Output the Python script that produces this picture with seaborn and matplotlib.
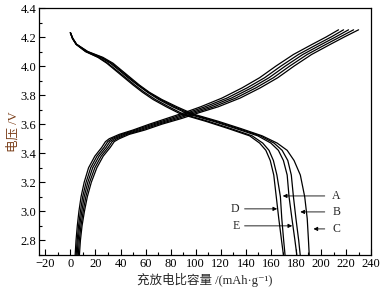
import matplotlib
matplotlib.use("Agg")
import matplotlib.pyplot as plt
from matplotlib.ticker import MultipleLocator
import seaborn as sns
import pandas as pd

# Discharge curves: shared voltage list, capacity per sample
dis_v = [4.23, 4.19, 4.15, 4.10, 4.06, 4.02, 3.97, 3.92, 3.87, 3.82, 3.77, 3.72,
         3.67, 3.62, 3.57, 3.52, 3.47, 3.42, 3.35, 3.25, 3.10, 2.95, 2.80, 2.70]
dis_D = [0, 1.6, 4.5, 12.0, 22.0, 29.0, 36.0, 43.0, 50.0, 57.5, 66.0, 76.5,
         88.0, 108.0, 126.0, 143.0, 151.0, 156.0, 159.5, 162.3, 164.3, 166.3, 168.5, 170.0]
dis_A = [0, 1.7, 4.6, 12.3, 22.6, 29.8, 37.0, 44.2, 51.3, 59.0, 67.8, 78.5,
         90.0, 110.0, 128.0, 145.0, 153.5, 158.5, 162.0, 164.8, 167.6, 168.7, 170.2, 171.3]
dis_E = [0, 1.8, 4.8, 13.0, 24.0, 31.8, 39.0, 46.0, 53.5, 61.5, 70.5, 81.5,
         94.0, 114.0, 132.0, 149.5, 160.0, 166.0, 170.0, 173.0, 174.5, 176.8, 179.2, 180.7]
dis_B = [0, 1.9, 4.9, 13.5, 25.0, 32.9, 40.0, 47.0, 54.2, 62.2, 71.8, 83.2,
         96.0, 116.0, 134.0, 151.5, 162.5, 169.0, 173.5, 176.3, 178.0, 180.0, 182.2, 183.4]
dis_C = [0, 2.0, 5.0, 14.0, 26.0, 34.0, 41.0, 48.0, 55.0, 63.0, 73.0, 85.0,
         98.0, 118.0, 136.0, 153.0, 165.0, 173.0, 178.5, 183.5, 187.0, 189.0, 190.0, 190.6]

# Charge curves: shared voltage list, capacity per sample
chg_v = [2.70, 2.80, 2.90, 3.00, 3.10, 3.20, 3.30, 3.38, 3.44, 3.48, 3.50, 3.53, 3.56,
         3.60, 3.64, 3.68, 3.72, 3.78, 3.85, 3.92, 4.00, 4.08, 4.15, 4.20, 4.25]
chg_D = [3.8, 4.5, 5.5, 6.8, 8.5, 11.0, 14.5, 19.5, 25.0, 28.0, 31.0, 39, 50,
         63, 77, 91, 104, 121, 137, 151, 164, 178, 193, 204, 214]
chg_A = [4.6, 5.4, 6.5, 8.0, 9.8, 12.5, 16.2, 21.2, 26.8, 29.8, 33.0, 41, 52,
         65.5, 80, 94, 107.5, 125, 141, 155, 168, 182, 197, 208, 218]
chg_E = [5.4, 6.2, 7.4, 9.1, 11.0, 13.9, 17.8, 22.9, 28.5, 31.5, 35.0, 43, 54.5,
         68, 83, 97, 111, 128.5, 144.5, 158.5, 171.5, 185.5, 200.5, 211.5, 222]
chg_B = [6.3, 7.1, 8.4, 10.2, 12.3, 15.3, 19.5, 24.6, 30.2, 33.3, 37.0, 45, 57,
         70.5, 86, 100, 114.5, 132, 148, 162, 175, 189, 204, 215, 226]
chg_C = [7.2, 8.0, 9.3, 11.2, 13.5, 16.7, 21.1, 26.2, 31.8, 35.0, 39.0, 47, 59.5,
         73, 89, 103, 118, 135.5, 151.5, 165.5, 178.5, 192.5, 207.5, 218.5, 230]

# Label positions (text x, text V, arrow tail x, arrow head x)
labels = ["A", "B", "C", "D", "E"]
label_x = [209, 209, 209, 135, 135]
label_v = [3.106, 2.996, 2.879, 3.017, 2.90]
tail_x = [203, 203, 203, 139, 139]
head_x = [169.5, 183.5, 194, 165, 177]

sns.set_theme(style="ticks")
plt.rcParams["font.family"] = ["Liberation Serif", "Noto Sans CJK SC", "DejaVu Serif"]

fig, ax = plt.subplots(figsize=(3.83, 2.91), dpi=100)
fig.subplots_adjust(left=0.102, right=0.969, top=0.9725, bottom=0.124)

for xs in [dis_D, dis_A, dis_E, dis_B, dis_C]:
    d = pd.DataFrame({"cap": xs, "v": dis_v})
    sns.lineplot(data=d, x="cap", y="v", sort=False, estimator=None,
                 color="black", lw=0.9, ax=ax)
for xs in [chg_D, chg_A, chg_E, chg_B, chg_C]:
    d = pd.DataFrame({"cap": xs, "v": chg_v})
    sns.lineplot(data=d, x="cap", y="v", sort=False, estimator=None,
                 color="black", lw=0.9, ax=ax)

for lab, tx, tv, sx, hx in zip(labels, label_x, label_v, tail_x, head_x):
    ax.annotate("", xy=(hx, tv), xytext=(sx, tv),
                arrowprops=dict(arrowstyle="-|>", color="black", lw=0.6,
                                mutation_scale=6, shrinkA=0, shrinkB=0))
    ha = "left" if tx > 180 else "right"
    ax.text(tx, tv, lab, ha=ha, va="center", fontsize=8.5)

ax.set_xlim(-25, 240)
ax.set_ylim(2.7, 4.4)
ax.set_xticks(range(-20, 241, 20))
ax.xaxis.set_minor_locator(MultipleLocator(10))
ax.yaxis.set_major_locator(MultipleLocator(0.2))
ax.yaxis.set_minor_locator(MultipleLocator(0.1))
ax.yaxis.set_major_formatter(plt.FormatStrFormatter("%.1f"))
ax.tick_params(which="both", direction="in", top=False, right=False, labelsize=9, pad=2,
               width=0.8, color="black", labelcolor="black")
ax.tick_params(which="major", length=4)
ax.tick_params(which="minor", length=2)
for s in ax.spines.values():
    s.set_visible(True)
    s.set_linewidth(0.9)
    s.set_color("black")

ax.set_xlabel("充放电比容量 /(mAh·g⁻¹)", fontsize=9, labelpad=2)
ax.set_ylabel("电压 /V", fontsize=9, labelpad=1, color="#7b3f1a")

plt.savefig("out.png", dpi=100)
